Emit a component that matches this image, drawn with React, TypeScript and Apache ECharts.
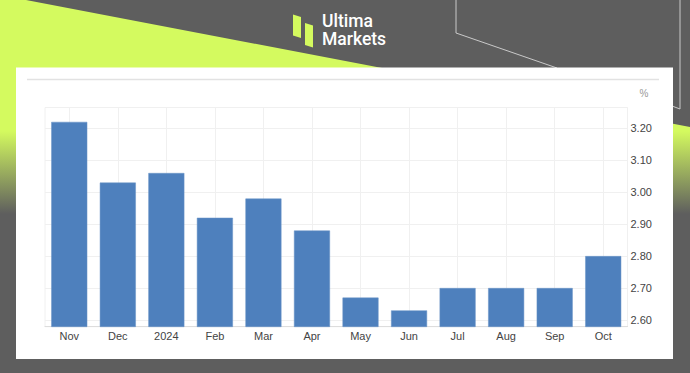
import React, { useEffect, useRef } from "react";
import * as echarts from "echarts";

const categories = ["Nov", "Dec", "2024", "Feb", "Mar", "Apr", "May", "Jun", "Jul", "Aug", "Sep", "Oct"];
const values = [3.22, 3.03, 3.06, 2.92, 2.98, 2.88, 2.67, 2.63, 2.7, 2.7, 2.7, 2.8];
const yMin = 2.579;
const yMax = 3.265;
const unitLabel = "%";
const brandLines = ["Ultima", "Markets"];

const LIME = "#d4fa5f";
const GRAY = "#5e5e5e";

export default function App() {
  const ref = useRef<HTMLDivElement>(null);
  useEffect(() => {
    if (!ref.current) return;
    const chart = echarts.init(ref.current, null, { renderer: "svg" });
    const option: any = {
      animation: false,
      backgroundColor: GRAY,
      graphic: [
        {
          type: "polygon",
          z: -100,
          shape: { points: [[0, 0], [26, 0], [690, 127], [690, 230], [0, 230]] },
          style: {
            fill: new echarts.graphic.LinearGradient(0, 0, 0, 1, [
              { offset: 0, color: LIME },
              { offset: 0.57, color: LIME },
              { offset: 0.93, color: GRAY },
              { offset: 1, color: GRAY },
            ]),
          },
        },
        {
          type: "polyline",
          z: -99,
          shape: { points: [[456, 0], [456, 33], [557, 68]] },
          style: { stroke: "#c9c9c9", lineWidth: 1, fill: null },
        },
        {
          type: "polyline",
          z: -99,
          shape: { points: [[680, 0], [680, 109], [672, 106]] },
          style: { stroke: "#c9c9c9", lineWidth: 1, fill: null },
        },
        {
          type: "rect",
          z: -98,
          shape: { x: 16, y: 67.5, width: 657, height: 291.5 },
          style: { fill: "#ffffff" },
        },
        {
          type: "line",
          z: -97,
          shape: { x1: 27, y1: 79.5, x2: 659, y2: 79.5 },
          style: { stroke: "#e2e2e2", lineWidth: 1.5 },
        },
        {
          type: "text",
          z: 10,
          x: 644,
          y: 93,
          style: {
            text: unitLabel,
            fill: "#999999",
            fontSize: 10,
            fontFamily: "Liberation Sans, Arial, sans-serif",
            align: "center",
            verticalAlign: "middle",
          },
        },
        {
          type: "polygon",
          z: 10,
          shape: { points: [[293, 14.5], [301, 17], [301, 38], [293, 35.5]] },
          style: { fill: LIME },
        },
        {
          type: "polygon",
          z: 10,
          shape: { points: [[305, 23], [313, 25.5], [313, 47.5], [305, 45]] },
          style: { fill: LIME },
        },
        {
          type: "text",
          z: 10,
          x: 322,
          y: 21.2,
          style: {
            text: brandLines[0],
            fill: "#ffffff",
            fontSize: 17.5,
            lineHeight: 16,
            fontWeight: 500,
            fontFamily: "Roboto, sans-serif",
            align: "left",
            verticalAlign: "middle",
          },
        },
        {
          type: "text",
          z: 10,
          x: 322,
          y: 39.4,
          style: {
            text: brandLines[1],
            fill: "#ffffff",
            fontSize: 17.5,
            lineHeight: 16,
            fontWeight: 500,
            fontFamily: "Roboto, sans-serif",
            align: "left",
            verticalAlign: "middle",
          },
        },
      ],
      grid: {
        left: 45,
        right: 62.5,
        top: 107.5,
        bottom: 46.3,
        show: true,
        borderColor: "#f0f0f0",
        borderWidth: 1,
        backgroundColor: "transparent",
      },
      xAxis: {
        type: "category",
        data: categories,
        axisLine: { lineStyle: { color: "#dddddd", width: 1 } },
        axisTick: { show: false, alignWithLabel: true },
        axisLabel: {
          color: "#444444",
          fontSize: 11,
          fontFamily: "Liberation Sans, Arial, sans-serif",
          margin: 4,
        },
        splitLine: { show: true, alignWithLabel: true, lineStyle: { color: "#f0f0f0", width: 1 } },
      },
      yAxis: {
        type: "value",
        position: "right",
        min: yMin,
        max: yMax,
        splitNumber: 6,
        axisLine: { show: false },
        axisTick: { show: false },
        axisLabel: {
          color: "#444444",
          fontSize: 11,
          fontFamily: "Liberation Sans, Arial, sans-serif",
          margin: 3,
          showMinLabel: false,
          showMaxLabel: false,
          formatter: (v: number) => v.toFixed(2),
        },
        splitLine: { show: true, lineStyle: { color: "#f0f0f0", width: 1 } },
      },
      series: [
        {
          type: "bar",
          data: values,
          barWidth: 36,
          itemStyle: { color: "#4e80bd", borderColor: "#6892c6", borderWidth: 0.5 },
        },
      ],
    };
    chart.setOption(option);
    return () => chart.dispose();
  }, []);
  return (
    <div
      ref={ref}
      style={{ position: "fixed", left: 0, top: 0, width: 690, height: 373 }}
    />
  );
}
